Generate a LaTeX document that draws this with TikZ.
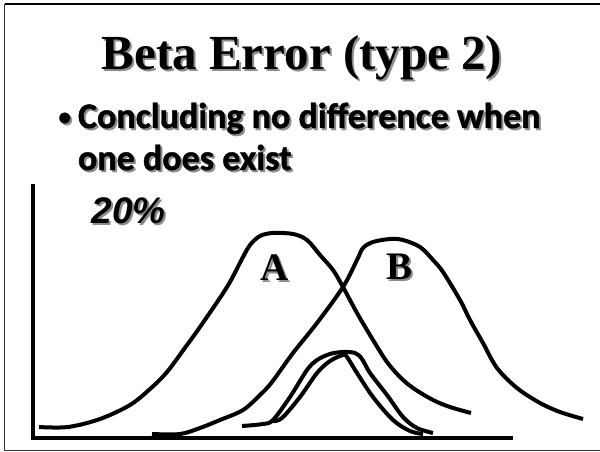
\documentclass[tikz,border=0pt]{standalone}
\usepackage{fontspec}
\setmainfont{Liberation Serif}
\newfontfamily\bodyfont{Carlito}[BoldFeatures={FakeBold=1.2}]
\newfontfamily\arialfont{Liberation Sans}
\newcommand\shtext[1]{\makebox[0pt][l]{\hspace{2pt}\raisebox{-2pt}{\color{black!45}#1}}#1}
\begin{document}
\begin{tikzpicture}[x=1pt,y=-1pt,
  curve/.style={line width=4pt, line join=round},
  axisline/.style={line width=4pt, line join=miter},
  frameline/.style={line width=1.5pt, draw=black!80},
  txt/.style={inner sep=0pt, outer sep=0pt},
  titlefont/.style={font=\fontsize{49}{49}\selectfont\bfseries},
  bodyf/.style={font=\bodyfont\fontsize{36}{36}\selectfont\bfseries},
  bulletf/.style={font=\bodyfont\fontsize{25}{25}\selectfont\bfseries},
  pctf/.style={font=\arialfont\fontsize{37}{37}\selectfont\bfseries\itshape},
  letterf/.style={font=\fontsize{39}{39}\selectfont\bfseries}]
\useasboundingbox (0,0) rectangle (600,452);
% frame (top, left, bottom)
\draw[frameline, line width=2pt, draw=black] (600,4.5) -- (4.5,4.5);
\draw[frameline] (4.5,4.5) -- (4.5,450.5) -- (600,450.5);
% title
\node[txt, titlefont, anchor=base] (title) at (302,70) {\shtext{Beta Error (type 2)}};
% bullet text
\node[txt, bulletf, anchor=base west] (bul) at (58.5,125) {\shtext{\textbullet}};
\node[txt, bodyf, anchor=base west] (l1) at (78,128) {\shtext{Concluding no difference when}};
\node[txt, bodyf, anchor=base west] (l2) at (78,170) {\shtext{one does exist}};
% 20%
\node[txt, pctf, anchor=base west] (pct) at (91.5,223) {\shtext{20\%}};
% axes
\draw[axisline] (33,184) -- (33,438) -- (513,438);
% curve A
\draw[curve] plot[smooth, tension=0.55] coordinates {(39,427) (68,427) (100,419) (130,405) (150,389) (167,372) (187,345) (200,327) (227,287) (243,257) (250,245) (260,236) (273,233) (293,234) (307,240) (320,255) (333,270) (343,287) (357,313) (373,340) (387,362) (400,377) (413,388) (433,400) (450,407) (471,413)};
% curve B
\draw[curve] plot[smooth, tension=0.55] coordinates {(152,434) (180,434) (200,428) (220,420) (243,410) (260,395) (272,382) (293,353) (317,323) (343,287) (357,260) (363,248) (373,242) (390,239) (403,240) (420,247) (433,260) (443,272) (460,300) (470,320) (483,343) (497,368) (517,388) (540,403) (560,412) (583,419)};
% small curves
\draw[curve] plot[smooth, tension=0.55] coordinates {(242,426) (263,424) (273,420) (290,397) (307,370) (317,360) (330,354) (343,352) (355,353) (362,359) (370,373) (387,395) (403,417) (417,428) (433,433)};
\draw[curve] plot[smooth, tension=0.55] coordinates {(273,421) (282,418) (300,397) (317,373) (330,361) (343,355) (347,357) (357,373) (373,397) (393,420) (410,431) (423,434)};
% letters
\node[txt, letterf, anchor=base] (A) at (275,280) {\shtext{A}};
\node[txt, letterf, anchor=base] (B) at (400,279) {\shtext{B}};
\end{tikzpicture}
\end{document}
